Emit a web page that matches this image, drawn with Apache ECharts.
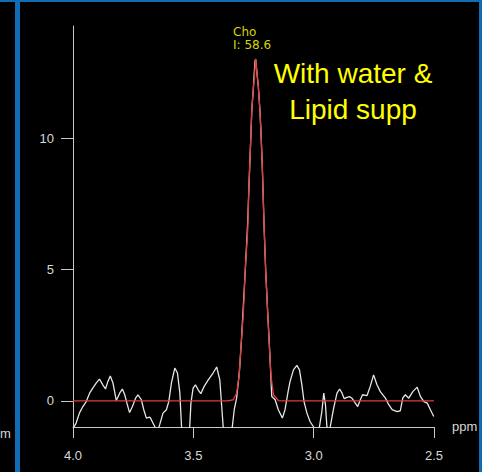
<!DOCTYPE html>
<html>
<head>
<meta charset="utf-8">
<script src="https://cdn.jsdelivr.net/npm/echarts@6/dist/echarts.min.js"></script>
<style>html,body{margin:0;padding:0;background:#000;}#c{width:482px;height:472px;}</style>
</head>
<body>
<div id="c"></div>
<script>
// Measured spectrum (white) - ppm and amplitude
const specPpm = [3.998,3.987,3.973,3.959,3.945,3.931,3.918,3.903,3.890,3.876,3.865,3.855,3.845,3.834,3.820,3.806,3.795,3.785,3.776,3.765,3.753,3.740,3.730,3.716,3.706,3.695,3.681,3.674,3.660,3.650,
  3.640,3.626,3.612,3.602,3.591,3.577,3.566,3.556,3.549,3.544,3.519,3.515,3.510,3.501,3.491,3.480,3.469,3.455,3.438,3.418,3.403,3.390,3.376,3.371,3.344,3.338,3.330,3.320,3.315,3.308,3.300,3.292,3.283,3.274,3.269,3.262,3.257,3.251,3.244,3.241,3.235,3.230,3.224,3.219,3.213,3.206,3.199,3.191,3.183,3.174,3.160,3.147,3.130,3.119,3.105,3.098,3.084,3.070,3.059,3.049,3.040,3.028,3.015,3.001,2.994,2.981,2.976,2.966,2.958,2.951,2.945,2.940,2.935,2.931,2.917,2.903,2.892,2.882,2.873,2.862,2.851,2.841,2.827,2.817,2.806,2.797,2.778,2.765,2.751,2.737,2.723,2.702,2.688,2.674,2.653,2.640,2.630,2.619,2.605,2.588,2.570,2.556,2.542,2.528,2.515,2.501];
const specVal = [-1.03,-0.85,-0.46,-0.22,-0.03,0.29,0.48,0.68,0.83,0.61,0.45,0.74,0.95,0.68,0.01,0.29,0.45,0.23,-0.09,-0.45,-0.22,0.10,0.23,0.04,-0.34,-0.66,-0.62,-0.73,-0.99,-1.2,
  -0.92,-0.47,-0.34,-0.03,0.68,1.25,1.06,0.29,-0.99,-1.3,-1.3,-0.99,-0.09,0.48,0.61,0.42,0.27,0.55,0.80,1.06,1.29,0.80,-0.99,-1.3,-1.3,-0.99,-0.34,0.11,0.55,1.18,2.33,3.66,5.19,6.83,8.18,9.84,11.11,11.87,12.95,13.04,12.44,12.0,11.17,10.28,8.82,6.65,4.89,3.36,1.95,0.16,0.04,-0.34,-0.66,-0.34,0.42,0.74,1.18,1.35,1.18,0.61,-0.03,-0.47,-0.79,-0.99,-1.22,-1.22,-0.99,-0.41,0.29,-0.15,-0.99,-1.22,-1.22,-0.99,-0.28,0.29,0.45,0.29,0.08,0.13,0.16,0.10,-0.09,-0.22,0.04,0.23,0.20,0.55,0.99,0.61,0.35,0.10,-0.15,-0.34,-0.41,-0.38,0.10,0.23,0.10,0.35,0.52,0.16,-0.03,-0.09,-0.34,-0.60];
// Fitted curve (red)
const fitPpm = [4.0,3.356,3.334,3.320,3.310,3.302,3.292,3.285,3.274,3.269,3.262,3.257,3.251,3.241,3.235,3.230,3.224,3.219,3.213,3.206,3.199,3.191,3.184,3.177,3.167,3.147,3.127,2.5];
const fitVal = [0,0,0.04,0.29,0.93,2.07,3.36,4.89,6.53,8.18,9.84,11.1,11.87,13.04,12.44,12.0,11.17,10.28,8.82,6.65,4.89,3.36,2.07,0.93,0.23,0.01,0,0];
const xTickValues = [2.5,3.0,3.5,4.0];
const yTickValues = [0,5,10];
const peakName = 'Cho';
const peakInfo = 'I: 58.6';
const noteLines = ['With water &','Lipid supp'];

const spec = specPpm.map((p,i)=>[p,specVal[i]]);
const fit = fitPpm.map((p,i)=>[p,fitVal[i]]);
const axisColor = '#c8c8c8';
const blue = '#106cb4';

const chart = echarts.init(document.getElementById('c'), null, {renderer:'svg'});
chart.setOption({
  backgroundColor:'#000',
  animation:false,
  grid:{left:73, right:48, top:26, bottom:45},
  xAxis:{
    type:'value', inverse:true, min:2.5, max:4.0, interval:0.5,
    axisLine:{onZero:false, lineStyle:{color:axisColor,width:1}},
    axisTick:{show:true, length:11, lineStyle:{color:axisColor}},
    axisLabel:{color:'#d8d8d8', fontSize:13, fontFamily:'Arial, "Liberation Sans"', margin:22, formatter:v=>v.toFixed(1)},
    splitLine:{show:false}
  },
  yAxis:{
    type:'value', min:-1, max:14.3,
    axisLine:{show:true, onZero:false, lineStyle:{color:axisColor,width:1}},
    axisTick:{show:true, length:12, customValues:yTickValues, lineStyle:{color:axisColor}},
    axisLabel:{color:'#d8d8d8', fontSize:13, fontFamily:'Arial, "Liberation Sans"', margin:19, customValues:yTickValues},
    splitLine:{show:false}
  },
  series:[
    {type:'line', data:spec, showSymbol:false, clip:true, lineStyle:{color:'#e6e6e6', width:1.3}},
    {type:'line', data:fit, showSymbol:false, clip:true, lineStyle:{color:'#e33b3b', width:1.3}}
  ],
  graphic:[
    {type:'rect', shape:{x:0,y:0,width:482,height:2}, style:{fill:blue}},
    {type:'rect', shape:{x:15,y:0,width:5,height:472}, style:{fill:blue}},
    {type:'rect', shape:{x:479,y:0,width:3,height:472}, style:{fill:blue}},
    {type:'text', x:233, y:31.5, style:{text:peakName, fill:'#d6d600', font:'12px "DejaVu Sans"', verticalAlign:'middle'}},
    {type:'text', x:233, y:45.2, style:{text:peakInfo, fill:'#d6d600', font:'12px "DejaVu Sans"', verticalAlign:'middle'}},
    {type:'text', x:353, y:73.5, style:{text:noteLines[0], fill:'#ffff00', font:'28px Arial, "Liberation Sans"', align:'center', verticalAlign:'middle'}},
    {type:'text', x:353, y:109.5, style:{text:noteLines[1], fill:'#ffff00', font:'28px Arial, "Liberation Sans"', align:'center', verticalAlign:'middle'}},
    {type:'text', x:452, y:426, style:{text:'ppm', fill:'#d8d8d8', font:'13px Arial, "Liberation Sans"', verticalAlign:'middle'}},
    {type:'text', x:0, y:433, style:{text:'m', fill:'#d8d8d8', font:'13px Arial, "Liberation Sans"', verticalAlign:'middle'}}
  ]
});
</script>
</body>
</html>
